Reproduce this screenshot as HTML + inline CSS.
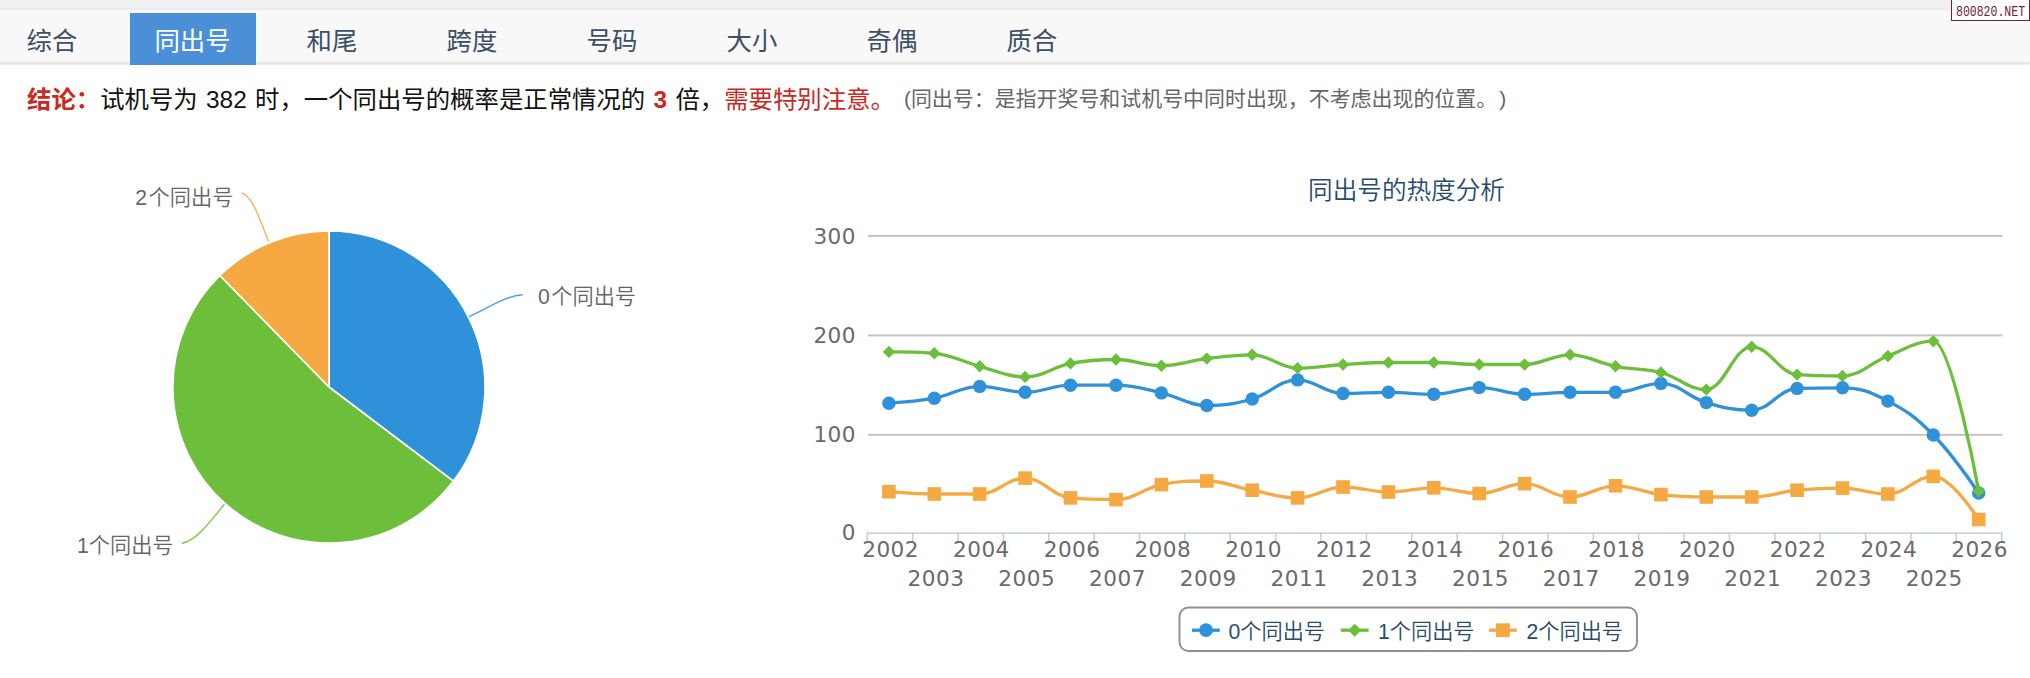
<!DOCTYPE html>
<html lang="zh-CN"><head><meta charset="utf-8"><title>同出号</title>
<style>
html,body{margin:0;padding:0;}
body{width:2030px;height:678px;overflow:hidden;background:#fff;position:relative;font-family:"Liberation Sans","Noto Sans CJK SC",sans-serif;}
.topband{position:absolute;left:0;top:0;width:2030px;height:11px;background:linear-gradient(#f1f1f1 0,#f0f0f0 7px,#e9e9e9 9px,#f8f8f8 11px);}
.tabbar{position:absolute;left:0;top:11px;width:2030px;height:51px;background:#f8f8f8;}
.tabline{position:absolute;left:0;top:62px;width:2030px;height:3px;background:linear-gradient(#ececec,#e4e4e4 60%,#f4f4f4);}
.tab{position:absolute;top:13px;width:126px;height:52px;line-height:56px;text-align:center;font-size:25.4px;color:#3b4f66;font-family:"Liberation Sans","Noto Sans CJK SC",sans-serif;font-weight:400;}
.tab.on{background:#4b8fd6;color:#fff;}
.wm{position:absolute;left:1951px;top:-1px;width:77px;height:20.3px;border:1.5px solid #6e2535;background:#fff;color:#6e2535;white-space:nowrap;overflow:hidden;}
.wm span{position:absolute;left:3.5px;top:0;display:block;font-family:"Liberation Mono",monospace;font-size:15px;line-height:25px;transform-origin:0 50%;transform:scaleX(0.767);}
.concl{position:absolute;left:27px;top:81.5px;word-spacing:1.5px;height:36px;line-height:36px;white-space:nowrap;font-size:24.4px;color:#111;font-family:"Liberation Sans","Noto Sans CJK SC",sans-serif;}
.concl b{color:#c9291e;font-weight:700;}
.concl .r{color:#c9291e;}
.concl .g{color:#666;font-size:20.95px;margin-left:9px;word-spacing:0;position:relative;top:-1.2px;}
.concl .p{margin-left:12.5px;}
svg{position:absolute;left:0;top:0;}
svg text{font-family:"DejaVu Sans","Noto Sans CJK SC",sans-serif;}
.ax{font-size:21.6px;fill:#6a6a6a;letter-spacing:0.45px;}
.dl{font-size:21.2px;fill:#666;font-weight:350;font-family:"Liberation Sans","Noto Sans CJK SC",sans-serif;}
.lg{font-size:21.2px;fill:#274b6d;font-weight:350;font-family:"Liberation Sans","Noto Sans CJK SC",sans-serif;}
.tt{font-size:24.6px;fill:#274b6d;font-family:"Liberation Sans","Noto Sans CJK SC",sans-serif;font-weight:350;}
</style></head><body>
<div class="topband"></div><div class="tabbar"></div><div class="tabline"></div>
<div class="tab" style="left:-11px">综合</div>
<div class="tab on" style="left:129.5px">同出号</div>
<div class="tab" style="left:269px">和尾</div>
<div class="tab" style="left:409px">跨度</div>
<div class="tab" style="left:549px">号码</div>
<div class="tab" style="left:689px">大小</div>
<div class="tab" style="left:829px">奇偶</div>
<div class="tab" style="left:969px">质合</div>
<div class="wm"><span>800820.NET</span></div>
<div class="concl"><b>结论：</b>试机号为 382 时，一个同出号的概率是正常情况的 <b>3</b> 倍，<span class="r">需要特别注意。</span><span class="g">(同出号：是指开奖号和试机号中同时出现，不考虑出现的位置。<span class="p">)</span></span></div>
<svg width="2030" height="678" viewBox="0 0 2030 678">
<g>
<path d="M329.0 387.0 L329.0 231.0 A156.0 156.0 0 0 1 453.4 481.1 Z" fill="#2f91da" stroke="#fff" stroke-width="1.6" stroke-linejoin="round"/>
<path d="M329.0 387.0 L453.4 481.1 A156.0 156.0 0 1 1 219.9 275.5 Z" fill="#6dbf3b" stroke="#fff" stroke-width="1.6" stroke-linejoin="round"/>
<path d="M329.0 387.0 L219.9 275.5 A156.0 156.0 0 0 1 329.0 231.0 Z" fill="#f6a942" stroke="#fff" stroke-width="1.6" stroke-linejoin="round"/>
<path d="M468.9 316.7 C490 307 505 296 522.6 294.8" fill="none" stroke="#2f91da" stroke-width="1.5" stroke-opacity="0.85"/>
<path d="M224.4 504.3 C210 522 196 541 181.7 543.4" fill="none" stroke="#6dbf3b" stroke-width="1.5" stroke-opacity="0.85"/>
<path d="M268.6 241.4 C258 215 252 196 241.5 193" fill="none" stroke="#f6a942" stroke-width="1.5" stroke-opacity="0.85"/>
<text x="538" y="304" class="dl">0<tspan dx="1.5">个同出号</tspan></text>
<text x="77" y="552.5" class="dl">1个同出号</text>
<text x="135.3" y="204.5" class="dl">2<tspan dx="1.5">个同出号</tspan></text>
</g>
<g>
<text x="1406.5" y="198.5" text-anchor="middle" class="tt">同出号的热度分析</text>
<rect x="868.0" y="234.9" width="1134.4" height="2" fill="#c4c4c4"/>
<rect x="868.0" y="334.4" width="1134.4" height="2" fill="#c4c4c4"/>
<rect x="868.0" y="433.8" width="1134.4" height="2" fill="#c4c4c4"/>
<rect x="867.3" y="532.4" width="1135.4" height="1.6" fill="#c6d0dd"/>
<rect x="866.5" y="532.4" width="1.6" height="9.9" fill="#c6d0dd"/>
<rect x="911.9" y="532.4" width="1.6" height="9.9" fill="#c6d0dd"/>
<rect x="957.2" y="532.4" width="1.6" height="9.9" fill="#c6d0dd"/>
<rect x="1002.6" y="532.4" width="1.6" height="9.9" fill="#c6d0dd"/>
<rect x="1048.0" y="532.4" width="1.6" height="9.9" fill="#c6d0dd"/>
<rect x="1093.4" y="532.4" width="1.6" height="9.9" fill="#c6d0dd"/>
<rect x="1138.8" y="532.4" width="1.6" height="9.9" fill="#c6d0dd"/>
<rect x="1184.1" y="532.4" width="1.6" height="9.9" fill="#c6d0dd"/>
<rect x="1229.5" y="532.4" width="1.6" height="9.9" fill="#c6d0dd"/>
<rect x="1274.9" y="532.4" width="1.6" height="9.9" fill="#c6d0dd"/>
<rect x="1320.2" y="532.4" width="1.6" height="9.9" fill="#c6d0dd"/>
<rect x="1365.6" y="532.4" width="1.6" height="9.9" fill="#c6d0dd"/>
<rect x="1411.0" y="532.4" width="1.6" height="9.9" fill="#c6d0dd"/>
<rect x="1456.4" y="532.4" width="1.6" height="9.9" fill="#c6d0dd"/>
<rect x="1501.8" y="532.4" width="1.6" height="9.9" fill="#c6d0dd"/>
<rect x="1547.1" y="532.4" width="1.6" height="9.9" fill="#c6d0dd"/>
<rect x="1592.5" y="532.4" width="1.6" height="9.9" fill="#c6d0dd"/>
<rect x="1637.9" y="532.4" width="1.6" height="9.9" fill="#c6d0dd"/>
<rect x="1683.2" y="532.4" width="1.6" height="9.9" fill="#c6d0dd"/>
<rect x="1728.6" y="532.4" width="1.6" height="9.9" fill="#c6d0dd"/>
<rect x="1774.0" y="532.4" width="1.6" height="9.9" fill="#c6d0dd"/>
<rect x="1819.4" y="532.4" width="1.6" height="9.9" fill="#c6d0dd"/>
<rect x="1864.8" y="532.4" width="1.6" height="9.9" fill="#c6d0dd"/>
<rect x="1910.1" y="532.4" width="1.6" height="9.9" fill="#c6d0dd"/>
<rect x="1955.5" y="532.4" width="1.6" height="9.9" fill="#c6d0dd"/>
<rect x="2000.9" y="532.4" width="1.6" height="9.9" fill="#c6d0dd"/>
<text x="856" y="243.5" text-anchor="end" class="ax">300</text>
<text x="856" y="343.0" text-anchor="end" class="ax">200</text>
<text x="856" y="442.4" text-anchor="end" class="ax">100</text>
<text x="856" y="539.6" text-anchor="end" class="ax">0</text>
<text x="890.6" y="557.3" text-anchor="middle" class="ax">2002</text>
<text x="936.0" y="586.1" text-anchor="middle" class="ax">2003</text>
<text x="981.4" y="557.3" text-anchor="middle" class="ax">2004</text>
<text x="1026.7" y="586.1" text-anchor="middle" class="ax">2005</text>
<text x="1072.1" y="557.3" text-anchor="middle" class="ax">2006</text>
<text x="1117.5" y="586.1" text-anchor="middle" class="ax">2007</text>
<text x="1162.8" y="557.3" text-anchor="middle" class="ax">2008</text>
<text x="1208.2" y="586.1" text-anchor="middle" class="ax">2009</text>
<text x="1253.6" y="557.3" text-anchor="middle" class="ax">2010</text>
<text x="1299.0" y="586.1" text-anchor="middle" class="ax">2011</text>
<text x="1344.3" y="557.3" text-anchor="middle" class="ax">2012</text>
<text x="1389.7" y="586.1" text-anchor="middle" class="ax">2013</text>
<text x="1435.1" y="557.3" text-anchor="middle" class="ax">2014</text>
<text x="1480.5" y="586.1" text-anchor="middle" class="ax">2015</text>
<text x="1525.8" y="557.3" text-anchor="middle" class="ax">2016</text>
<text x="1571.2" y="586.1" text-anchor="middle" class="ax">2017</text>
<text x="1616.6" y="557.3" text-anchor="middle" class="ax">2018</text>
<text x="1662.0" y="586.1" text-anchor="middle" class="ax">2019</text>
<text x="1707.3" y="557.3" text-anchor="middle" class="ax">2020</text>
<text x="1752.7" y="586.1" text-anchor="middle" class="ax">2021</text>
<text x="1798.1" y="557.3" text-anchor="middle" class="ax">2022</text>
<text x="1843.5" y="586.1" text-anchor="middle" class="ax">2023</text>
<text x="1888.8" y="557.3" text-anchor="middle" class="ax">2024</text>
<text x="1934.2" y="586.1" text-anchor="middle" class="ax">2025</text>
<text x="1979.6" y="557.3" text-anchor="middle" class="ax">2026</text>
<path d="M888.9 403.2C888.9 403.2 916.1 401.6 934.3 398.2C952.5 394.8 961.6 386.4 979.7 386.4C997.9 386.4 1007.0 392.3 1025.1 392.3C1043.3 392.3 1052.4 385.2 1070.5 385.2C1088.7 385.2 1097.8 385.2 1116.0 385.2C1134.1 385.2 1143.2 388.8 1161.4 392.9C1179.5 397.0 1188.6 405.5 1206.8 405.5C1224.9 405.5 1234.0 404.1 1252.2 399.0C1270.3 393.9 1279.4 379.9 1297.6 379.9C1315.8 379.9 1324.8 393.5 1343.0 393.5C1361.2 393.5 1370.2 392.3 1388.4 392.3C1406.6 392.3 1415.7 394.3 1433.8 394.3C1452.0 394.3 1461.1 387.6 1479.2 387.6C1497.4 387.6 1506.5 394.3 1524.6 394.3C1542.8 394.3 1551.9 392.3 1570.0 392.3C1588.2 392.3 1597.3 392.3 1615.5 392.3C1633.6 392.3 1642.7 383.4 1660.9 383.4C1679.0 383.4 1688.1 397.2 1706.3 402.6C1724.4 408.0 1733.5 410.3 1751.7 410.3C1769.9 410.3 1778.9 389.0 1797.1 388.4C1815.3 387.8 1824.3 387.8 1842.5 387.8C1860.7 387.8 1869.8 391.7 1887.9 401.1C1906.1 410.5 1915.2 416.6 1933.3 435.0C1951.5 453.4 1978.7 493.0 1978.7 493.0" fill="none" stroke="#2f91da" stroke-width="3.3" stroke-linejoin="round" stroke-linecap="round"/>
<circle cx="888.9" cy="403.2" r="6.7" fill="#2f91da"/>
<circle cx="934.3" cy="398.2" r="6.7" fill="#2f91da"/>
<circle cx="979.7" cy="386.4" r="6.7" fill="#2f91da"/>
<circle cx="1025.1" cy="392.3" r="6.7" fill="#2f91da"/>
<circle cx="1070.5" cy="385.2" r="6.7" fill="#2f91da"/>
<circle cx="1116.0" cy="385.2" r="6.7" fill="#2f91da"/>
<circle cx="1161.4" cy="392.9" r="6.7" fill="#2f91da"/>
<circle cx="1206.8" cy="405.5" r="6.7" fill="#2f91da"/>
<circle cx="1252.2" cy="399.0" r="6.7" fill="#2f91da"/>
<circle cx="1297.6" cy="379.9" r="6.7" fill="#2f91da"/>
<circle cx="1343.0" cy="393.5" r="6.7" fill="#2f91da"/>
<circle cx="1388.4" cy="392.3" r="6.7" fill="#2f91da"/>
<circle cx="1433.8" cy="394.3" r="6.7" fill="#2f91da"/>
<circle cx="1479.2" cy="387.6" r="6.7" fill="#2f91da"/>
<circle cx="1524.6" cy="394.3" r="6.7" fill="#2f91da"/>
<circle cx="1570.0" cy="392.3" r="6.7" fill="#2f91da"/>
<circle cx="1615.5" cy="392.3" r="6.7" fill="#2f91da"/>
<circle cx="1660.9" cy="383.4" r="6.7" fill="#2f91da"/>
<circle cx="1706.3" cy="402.6" r="6.7" fill="#2f91da"/>
<circle cx="1751.7" cy="410.3" r="6.7" fill="#2f91da"/>
<circle cx="1797.1" cy="388.4" r="6.7" fill="#2f91da"/>
<circle cx="1842.5" cy="387.8" r="6.7" fill="#2f91da"/>
<circle cx="1887.9" cy="401.1" r="6.7" fill="#2f91da"/>
<circle cx="1933.3" cy="435.0" r="6.7" fill="#2f91da"/>
<circle cx="1978.7" cy="493.0" r="6.7" fill="#2f91da"/>
<path d="M888.9 351.9C888.9 351.9 916.1 351.9 934.3 353.3C952.5 354.7 961.6 361.6 979.7 366.3C997.9 371.0 1007.0 376.9 1025.1 376.9C1043.3 376.9 1052.4 366.9 1070.5 363.4C1088.7 359.9 1097.8 359.5 1116.0 359.5C1134.1 359.5 1143.2 365.7 1161.4 365.7C1179.5 365.7 1188.6 360.8 1206.8 358.6C1224.9 356.4 1234.0 354.8 1252.2 354.8C1270.3 354.8 1279.4 368.1 1297.6 368.1C1315.8 368.1 1324.8 365.6 1343.0 364.5C1361.2 363.4 1370.2 362.5 1388.4 362.5C1406.6 362.5 1415.7 362.5 1433.8 362.5C1452.0 362.5 1461.1 364.5 1479.2 364.5C1497.4 364.5 1506.5 364.5 1524.6 364.5C1542.8 364.5 1551.9 354.8 1570.0 354.8C1588.2 354.8 1597.3 362.8 1615.5 366.3C1633.6 369.8 1642.7 367.8 1660.9 372.5C1679.0 377.2 1688.1 389.6 1706.3 389.6C1724.4 389.6 1733.5 346.8 1751.7 346.8C1769.9 346.8 1778.9 373.2 1797.1 374.6C1815.3 376.0 1824.3 376.0 1842.5 376.0C1860.7 376.0 1869.8 363.0 1887.9 356.0C1906.1 349.0 1915.2 341.2 1933.3 341.2C1951.5 341.2 1978.7 491.1 1978.7 491.1" fill="none" stroke="#6dbf3b" stroke-width="3.3" stroke-linejoin="round" stroke-linecap="round"/>
<path d="M888.9 345.7 l6.2 6.2 l-6.2 6.2 l-6.2 -6.2z" fill="#6dbf3b"/>
<path d="M934.3 347.1 l6.2 6.2 l-6.2 6.2 l-6.2 -6.2z" fill="#6dbf3b"/>
<path d="M979.7 360.1 l6.2 6.2 l-6.2 6.2 l-6.2 -6.2z" fill="#6dbf3b"/>
<path d="M1025.1 370.7 l6.2 6.2 l-6.2 6.2 l-6.2 -6.2z" fill="#6dbf3b"/>
<path d="M1070.5 357.2 l6.2 6.2 l-6.2 6.2 l-6.2 -6.2z" fill="#6dbf3b"/>
<path d="M1116.0 353.3 l6.2 6.2 l-6.2 6.2 l-6.2 -6.2z" fill="#6dbf3b"/>
<path d="M1161.4 359.5 l6.2 6.2 l-6.2 6.2 l-6.2 -6.2z" fill="#6dbf3b"/>
<path d="M1206.8 352.4 l6.2 6.2 l-6.2 6.2 l-6.2 -6.2z" fill="#6dbf3b"/>
<path d="M1252.2 348.6 l6.2 6.2 l-6.2 6.2 l-6.2 -6.2z" fill="#6dbf3b"/>
<path d="M1297.6 361.9 l6.2 6.2 l-6.2 6.2 l-6.2 -6.2z" fill="#6dbf3b"/>
<path d="M1343.0 358.3 l6.2 6.2 l-6.2 6.2 l-6.2 -6.2z" fill="#6dbf3b"/>
<path d="M1388.4 356.3 l6.2 6.2 l-6.2 6.2 l-6.2 -6.2z" fill="#6dbf3b"/>
<path d="M1433.8 356.3 l6.2 6.2 l-6.2 6.2 l-6.2 -6.2z" fill="#6dbf3b"/>
<path d="M1479.2 358.3 l6.2 6.2 l-6.2 6.2 l-6.2 -6.2z" fill="#6dbf3b"/>
<path d="M1524.6 358.3 l6.2 6.2 l-6.2 6.2 l-6.2 -6.2z" fill="#6dbf3b"/>
<path d="M1570.0 348.6 l6.2 6.2 l-6.2 6.2 l-6.2 -6.2z" fill="#6dbf3b"/>
<path d="M1615.5 360.1 l6.2 6.2 l-6.2 6.2 l-6.2 -6.2z" fill="#6dbf3b"/>
<path d="M1660.9 366.3 l6.2 6.2 l-6.2 6.2 l-6.2 -6.2z" fill="#6dbf3b"/>
<path d="M1706.3 383.4 l6.2 6.2 l-6.2 6.2 l-6.2 -6.2z" fill="#6dbf3b"/>
<path d="M1751.7 340.6 l6.2 6.2 l-6.2 6.2 l-6.2 -6.2z" fill="#6dbf3b"/>
<path d="M1797.1 368.4 l6.2 6.2 l-6.2 6.2 l-6.2 -6.2z" fill="#6dbf3b"/>
<path d="M1842.5 369.8 l6.2 6.2 l-6.2 6.2 l-6.2 -6.2z" fill="#6dbf3b"/>
<path d="M1887.9 349.8 l6.2 6.2 l-6.2 6.2 l-6.2 -6.2z" fill="#6dbf3b"/>
<path d="M1933.3 335.0 l6.2 6.2 l-6.2 6.2 l-6.2 -6.2z" fill="#6dbf3b"/>
<path d="M1978.7 484.9 l6.2 6.2 l-6.2 6.2 l-6.2 -6.2z" fill="#6dbf3b"/>
<path d="M888.9 491.7C888.9 491.7 916.1 494.0 934.3 494.0C952.5 494.0 961.6 494.0 979.7 494.0C997.9 494.0 1007.0 478.1 1025.1 478.1C1043.3 478.1 1052.4 496.2 1070.5 497.9C1088.7 499.6 1097.8 499.6 1116.0 499.6C1134.1 499.6 1143.2 488.2 1161.4 484.6C1179.5 481.0 1188.6 481.0 1206.8 481.0C1224.9 481.0 1234.0 486.8 1252.2 490.2C1270.3 493.6 1279.4 497.9 1297.6 497.9C1315.8 497.9 1324.8 487.0 1343.0 487.0C1361.2 487.0 1370.2 492.0 1388.4 492.0C1406.6 492.0 1415.7 487.8 1433.8 487.8C1452.0 487.8 1461.1 493.5 1479.2 493.5C1497.4 493.5 1506.5 483.7 1524.6 483.7C1542.8 483.7 1551.9 497.0 1570.0 497.0C1588.2 497.0 1597.3 485.8 1615.5 485.8C1633.6 485.8 1642.7 492.4 1660.9 494.6C1679.0 496.8 1688.1 497.0 1706.3 497.0C1724.4 497.0 1733.5 497.0 1751.7 497.0C1769.9 497.0 1778.9 492.0 1797.1 490.2C1815.3 488.4 1824.3 488.1 1842.5 488.1C1860.7 488.1 1869.8 494.0 1887.9 494.0C1906.1 494.0 1915.2 476.4 1933.3 476.4C1951.5 476.4 1978.7 519.5 1978.7 519.5" fill="none" stroke="#f6a942" stroke-width="3.3" stroke-linejoin="round" stroke-linecap="round"/>
<rect x="882.1" y="484.9" width="13.6" height="13.6" fill="#f6a942"/>
<rect x="927.5" y="487.2" width="13.6" height="13.6" fill="#f6a942"/>
<rect x="972.9" y="487.2" width="13.6" height="13.6" fill="#f6a942"/>
<rect x="1018.3" y="471.3" width="13.6" height="13.6" fill="#f6a942"/>
<rect x="1063.7" y="491.1" width="13.6" height="13.6" fill="#f6a942"/>
<rect x="1109.2" y="492.8" width="13.6" height="13.6" fill="#f6a942"/>
<rect x="1154.6" y="477.8" width="13.6" height="13.6" fill="#f6a942"/>
<rect x="1200.0" y="474.2" width="13.6" height="13.6" fill="#f6a942"/>
<rect x="1245.4" y="483.4" width="13.6" height="13.6" fill="#f6a942"/>
<rect x="1290.8" y="491.1" width="13.6" height="13.6" fill="#f6a942"/>
<rect x="1336.2" y="480.2" width="13.6" height="13.6" fill="#f6a942"/>
<rect x="1381.6" y="485.2" width="13.6" height="13.6" fill="#f6a942"/>
<rect x="1427.0" y="481.0" width="13.6" height="13.6" fill="#f6a942"/>
<rect x="1472.4" y="486.7" width="13.6" height="13.6" fill="#f6a942"/>
<rect x="1517.8" y="476.9" width="13.6" height="13.6" fill="#f6a942"/>
<rect x="1563.2" y="490.2" width="13.6" height="13.6" fill="#f6a942"/>
<rect x="1608.7" y="479.0" width="13.6" height="13.6" fill="#f6a942"/>
<rect x="1654.1" y="487.8" width="13.6" height="13.6" fill="#f6a942"/>
<rect x="1699.5" y="490.2" width="13.6" height="13.6" fill="#f6a942"/>
<rect x="1744.9" y="490.2" width="13.6" height="13.6" fill="#f6a942"/>
<rect x="1790.3" y="483.4" width="13.6" height="13.6" fill="#f6a942"/>
<rect x="1835.7" y="481.3" width="13.6" height="13.6" fill="#f6a942"/>
<rect x="1881.1" y="487.2" width="13.6" height="13.6" fill="#f6a942"/>
<rect x="1926.5" y="469.6" width="13.6" height="13.6" fill="#f6a942"/>
<rect x="1971.9" y="512.7" width="13.6" height="13.6" fill="#f6a942"/>
<rect x="1179.5" y="607.5" width="457.5" height="43.5" rx="9" ry="9" fill="#fff" stroke="#909090" stroke-width="1.9"/>
<path d="M1192 630.2h27.8" stroke="#2f91da" stroke-width="3.3"/><circle cx="1206" cy="630.2" r="6.9" fill="#2f91da"/>
<text x="1228.5" y="638.5" class="lg">0个同出号</text>
<path d="M1340.8 630.2h27.8" stroke="#6dbf3b" stroke-width="3.3"/><path d="M1354.7 623.7l6.5 6.5l-6.5 6.5l-6.5-6.5z" fill="#6dbf3b"/>
<text x="1378" y="638.5" class="lg">1个同出号</text>
<path d="M1489 630.2h27.8" stroke="#f6a942" stroke-width="3.3"/><rect x="1496" y="623.3" width="13.8" height="13.8" fill="#f6a942"/>
<text x="1526.5" y="638.5" class="lg">2个同出号</text>
</g>
</svg>
</body></html>
